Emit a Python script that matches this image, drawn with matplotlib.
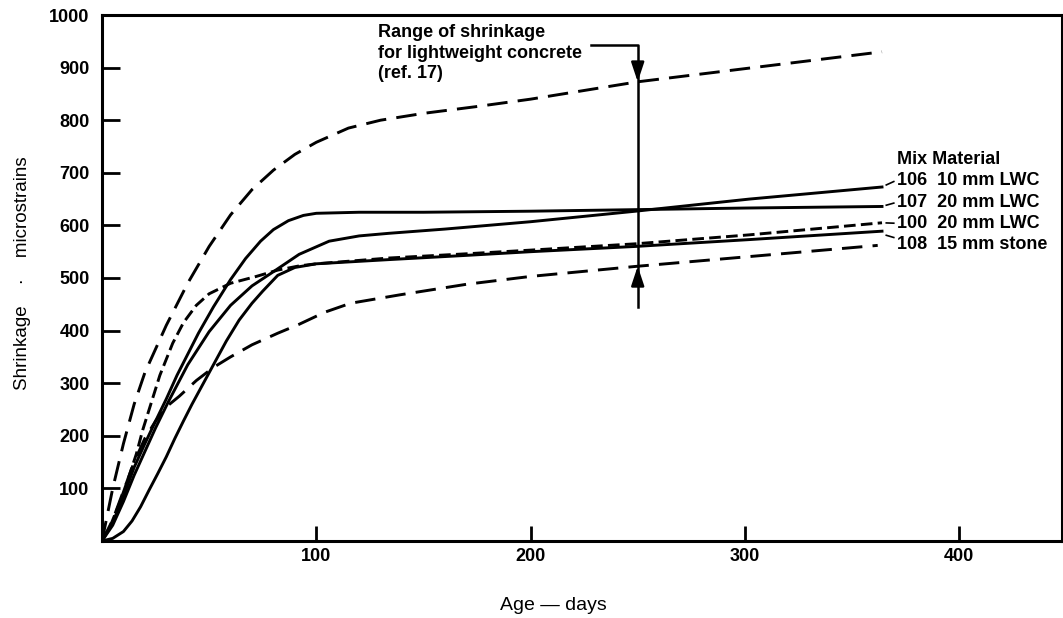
import numpy as np
import matplotlib
matplotlib.use("Agg")
import matplotlib.pyplot as plt

plt.rcParams["font.family"] = ["Liberation Sans", "DejaVu Sans"]
plt.rcParams["font.size"] = 13

# upper / lower bounds of the lightweight concrete range (ref. 17), dashed
upper_days = [0, 5, 10, 15, 20, 30, 40, 50, 60, 70, 80, 90, 100, 115, 130, 150, 175, 200, 250, 300, 364]
upper_vals = [0, 100, 185, 260, 320, 410, 490, 560, 620, 668, 705, 735, 758, 785, 800, 813, 826, 840, 873, 898, 930]
lower_days = [0, 5, 10, 15, 20, 25, 30, 36, 44, 52, 60, 70, 82, 92, 104, 116, 139, 170, 200, 249, 300, 362]
lower_vals = [0, 40, 95, 150, 195, 228, 255, 275, 305, 330, 350, 373, 395, 412, 435, 452, 468, 488, 503, 522, 540, 562]

# mixes
mix106_days = [0, 5, 10, 15, 20, 25, 31, 40, 50, 60, 70, 80, 92, 106, 120, 134, 160, 200, 249, 302, 364]
mix106_vals = [0, 30, 75, 125, 170, 215, 265, 335, 398, 448, 485, 512, 545, 570, 580, 585, 593, 607, 627, 650, 673]
mix107_days = [0, 5, 10, 15, 20, 25, 30, 35, 40, 45, 52, 60, 67, 74, 80, 87, 94, 100, 120, 150, 200, 250, 300, 364]
mix107_vals = [0, 35, 85, 140, 185, 228, 270, 315, 355, 395, 445, 497, 537, 570, 592, 609, 619, 623, 625, 625, 627, 630, 633, 636]
mix100_days = [0, 4, 8, 12, 16, 19, 22, 27, 33, 38, 44, 50, 60, 72, 82, 92, 100, 134, 170, 200, 249, 302, 364]
mix100_vals = [0, 30, 70, 116, 165, 211, 250, 315, 376, 415, 448, 470, 490, 503, 515, 523, 527, 538, 546, 553, 565, 582, 605]
mix108_days = [0, 5, 10, 14, 18, 22, 26, 30, 34, 38, 42, 46, 52, 58, 64, 70, 75, 82, 90, 100, 134, 170, 200, 249, 302, 364]
mix108_vals = [0, 5, 18, 38, 65, 97, 128, 160, 195, 228, 260, 290, 335, 380, 420, 452, 475, 505, 520, 527, 535, 543, 550, 560, 573, 589]

mix_labels = ["106  10 mm LWC", "107  20 mm LWC", "100  20 mm LWC", "108  15 mm stone"]
label_vals = [686, 644, 604, 563]

x_ticks = [100, 200, 300, 400]
y_ticks = [100, 200, 300, 400, 500, 600, 700, 800, 900, 1000]
range_day = 250

fig = plt.figure(figsize=(10.63, 6.18), dpi=100)
ax = fig.add_axes([102 / 1063, 1 - 541 / 618, 960 / 1063, 526 / 618])

long_dash = (7, 3.5)
short_dash = (4, 1.8)
lw = 2.1
ax.plot(upper_days, upper_vals, color="black", lw=lw, dashes=long_dash)
ax.plot(lower_days, lower_vals, color="black", lw=lw, dashes=long_dash)
ax.plot(mix106_days, mix106_vals, color="black", lw=lw)
ax.plot(mix107_days, mix107_vals, color="black", lw=lw)
ax.plot(mix100_days, mix100_vals, color="black", lw=lw, dashes=short_dash)
ax.plot(mix108_days, mix108_vals, color="black", lw=lw)

# leaders from the line ends to the mix labels
ends = [mix106_vals[-1], mix107_vals[-1], mix100_vals[-1], mix108_vals[-1]]
for i, (ev, tv) in enumerate(zip(ends, label_vals)):
    y2 = tv - (tv - ev) * 0.2 if i != 3 else ev - 12
    ax.plot([366, 369.5], [ev + (tv - ev) * 0.3, y2], color="black", lw=1.2)
    ax.text(371, tv, mix_labels[i], ha="left", va="center", fontsize=13, fontweight="bold")
ax.text(371, 726, "Mix Material", ha="left", va="center", fontsize=13, fontweight="bold")

# range indicator
top_tip = np.interp(range_day, upper_days, upper_vals)
bot_tip = np.interp(range_day, lower_days, lower_vals)
ax.plot([228, range_day, range_day], [943, 943, 445], color="black", lw=1.8)
ax.annotate("", xy=(range_day, top_tip), xytext=(range_day, top_tip + 30),
            arrowprops=dict(arrowstyle="-|>,head_length=0.9,head_width=0.3",
                            color="black", lw=1.8, shrinkA=0, shrinkB=0))
ax.annotate("", xy=(range_day, bot_tip), xytext=(range_day, bot_tip - 30),
            arrowprops=dict(arrowstyle="-|>,head_length=0.9,head_width=0.3",
                            color="black", lw=1.8, shrinkA=0, shrinkB=0))
ax.text(129, 983, "Range of shrinkage\nfor lightweight concrete\n(ref. 17)",
        ha="left", va="top", fontsize=13, fontweight="bold", linespacing=1.28)

ax.set_xlim(0, 448)
ax.set_ylim(0, 1000)
ax.set_xticks(x_ticks)
ax.set_yticks(y_ticks)
ax.tick_params(axis="y", direction="in", length=13, width=2, pad=9, labelsize=13)
ax.tick_params(axis="x", direction="in", length=11, width=2, pad=5, labelsize=13)
for lab in ax.get_xticklabels() + ax.get_yticklabels():
    lab.set_fontweight("bold")
for s in ax.spines.values():
    s.set_linewidth(2.2)

fig.text(23 / 1063, 1 - 273 / 618, "Shrinkage    \u00b7    microstrains", rotation=90,
         ha="center", va="center", fontsize=13.5)
fig.text(553 / 1063, 1 - 606 / 618, "Age \u2014 days", ha="center", va="center", fontsize=14)

fig.savefig("out.png", dpi=100)
